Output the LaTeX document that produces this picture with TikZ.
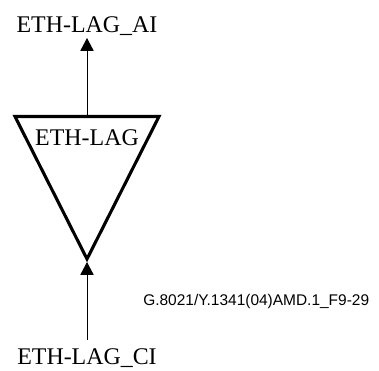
\documentclass[tikz,border=0pt]{standalone}
\usepackage{fontspec}
\setmainfont{Liberation Serif}
\newfontfamily\codefont{Liberation Sans}
\usetikzlibrary{arrows.meta}

\begin{document}
\begin{tikzpicture}[
  x=0.025cm, y=-0.025cm,
  tri/.style={line width=2.2pt, line join=miter},
  sig/.style={line width=0.7pt, -{Triangle[length=0.32cm, width=0.33cm]}},
  lbl/.style={font=\fontsize{17}{20}\selectfont, inner sep=0pt, anchor=base},
  code/.style={font=\codefont\fontsize{11}{13}\selectfont, inner sep=0pt, anchor=base west}
]
    \useasboundingbox (0,0) rectangle (379,370);

    % ===================== Triangle =====================
    \coordinate (TL) at (15,116.5);
    \coordinate (TR) at (159,116.5);
    \coordinate (AP) at (87,259);
    \coordinate (TM) at (87,116.5);
    \draw[tri] (TL)--(TR)--(AP)--cycle;
    \node[lbl] (lag) at (87,145) {ETH-LAG};

    % ===================== Points =====================
    \node[lbl] (ai) at (87,32)  {ETH-LAG\_AI};
    \node[lbl] (ci) at (87,364) {ETH-LAG\_CI};
    \coordinate (aitip)  at (87,38);
    \coordinate (citail) at (87,340);
    \coordinate (cihead) at (87,262);

    % Signals
    \draw[sig] (TM) -- (aitip);
    \draw[sig] (citail) -- (cihead);

    % Label
    \node[code] (fig) at (143,305) {G.8021/Y.1341(04)AMD.1\_F9-29};

\end{tikzpicture}
\end{document}
